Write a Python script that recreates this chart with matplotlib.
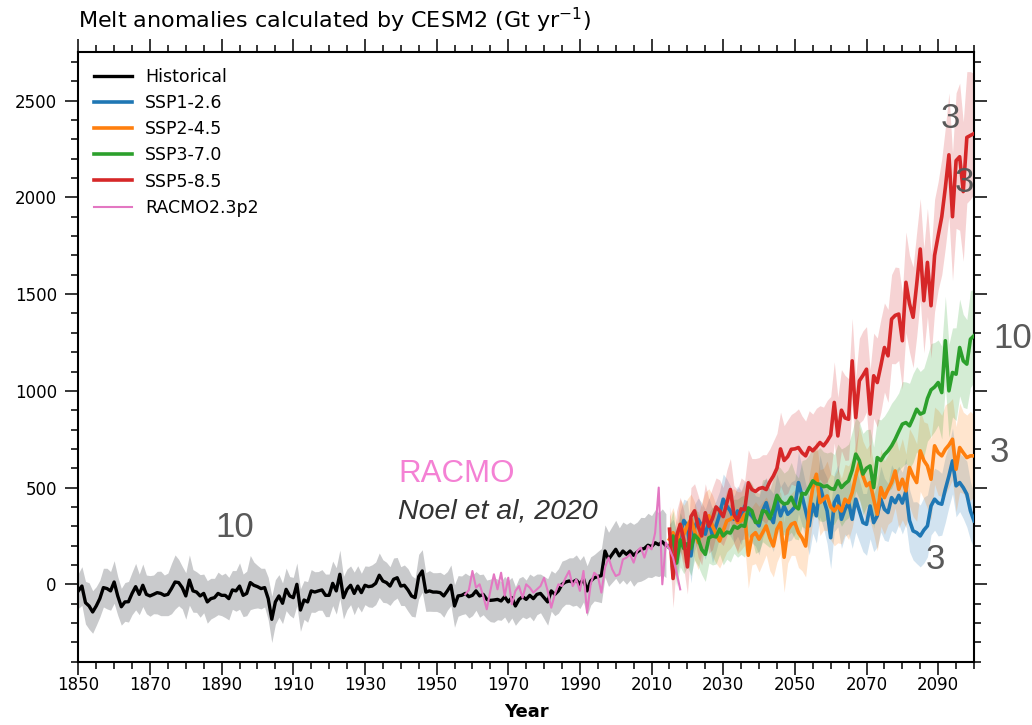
"""
plot.py
=======
Greenland melt anomalies from CESM2: the historical run, four SSP projections
and the RACMO2.3p2 regional model, with the ensemble range shaded around each
CESM2 mean.
"""

import matplotlib

matplotlib.use("Agg")  # headless backend
import matplotlib.pyplot as plt  # noqa: E402
import numpy as np  # noqa: E402
from matplotlib.ticker import MultipleLocator  # noqa: E402

# -----------------------------------------------------------------------------
# Data (Gt yr-1 anomalies)
# -----------------------------------------------------------------------------
HIST_START = 1850
hist_mean = [
    -34, -9, -95, -112, -143, -112, -74, -17, -22, -34,
    12, -60, -116, -91, -90, -47, -12, -52, -5, -52,
    -60, -52, -43, -47, -57, -52, -22, 12, 9, -17,
    -60, 22, -34, -40, -60, -47, -91, -74, -69, -47,
    -57, -57, -74, -29, -34, -9, -57, -47, 9, -5,
    -12, -22, -17, -74, -181, -91, -60, -98, -26, -60,
    -69, 0, -133, -81, -91, -34, -40, -34, -29, -57,
    -57, 5, -34, 52, -69, -26, -5, -47, -9, -43,
    -5, -12, -9, 5, 47, 17, 9, -9, 26, 34,
    -9, -5, -29, -60, -69, 40, 69, -40, -34, -40,
    -40, -43, -60, -34, -5, -112, -60, -57, -47, -64,
    -57, -34, -60, -52, -78, -83, -81, -78, -86, -64,
    -91, -69, -112, -78, -64, -78, -57, -74, -52, -47,
    -69, -91, -34, -52, -34, 0, 12, 17, 12, 22,
    0, 29, -34, 17, 34, 40, 45, 172, 129, 155,
    181, 147, 172, 155, 172, 150, 167, 181, 185, 202,
    195, 215, 205, 220, 200,
]
hist_spread = [
    90, 100, 110, 120, 110, 100, 95, 100, 105, 100,
    110, 100, 95, 100, 105, 110, 120, 105, 110, 100,
    105, 100, 110, 115, 105, 110, 130, 140, 120, 110,
    120, 130, 110, 105, 110, 100, 110, 105, 100, 110,
    105, 115, 110, 100, 105, 120, 110, 115, 140, 120,
    110, 105, 100, 110, 120, 115, 110, 105, 110, 100,
    105, 110, 110, 100, 105, 110, 105, 100, 105, 110,
    110, 115, 120, 125, 110, 105, 100, 110, 105, 100,
    100, 105, 110, 110, 115, 110, 105, 100, 110, 105,
    100, 105, 110, 105, 100, 115, 110, 100, 105, 100,
    100, 105, 110, 100, 105, 110, 105, 100, 105, 110,
    105, 100, 110, 105, 100, 110, 115, 105, 100, 105,
    110, 105, 100, 110, 105, 100, 110, 115, 105, 100,
    110, 120, 105, 110, 115, 120, 115, 120, 125, 130,
    125, 120, 130, 125, 120, 130, 140, 135, 140, 145,
    150, 145, 150, 155, 150, 160, 155, 165, 160, 165,
    160, 170, 165, 170, 165,
]

RACMO_START = 1958
racmo = [
    -52, -30, 69, -17, 0, -60, -129, -34, 52, -26,
    60, -60, 34, -103, -34, -9, -69, 0, -17, -43,
    -26, -9, 34, -34, -121, -52, 0, -9, 34, 69,
    -9, 26, -34, 69, -147, 0, 60, 43, -43, 86,
    138, 78, 43, 52, 129, 138, 155, 112, 172, 190,
    138, 198, 181, 267, 500, 0, 216, 181, 138, 60,
    -26,
]

SSP_START = 2015
ssp126 = [
    200, 216, 150, 260, 330, 302, 147, 293, 336, 302,
    259, 328, 250, 302, 362, 440, 405, 379, 336, 379,
    345, 405, 371, 354, 328, 302, 379, 422, 354, 319,
    431, 354, 405, 362, 379, 400, 526, 457, 380, 302,
    414, 354, 509, 440, 380, 241, 422, 457, 336, 388,
    422, 336, 440, 380, 319, 310, 405, 319, 354, 440,
    388, 371, 448, 422, 460, 420, 483, 330, 276, 267,
    250, 280, 302, 405, 440, 420, 414, 491, 560, 638,
    509, 526, 500, 466, 380, 328,
]
ssp126_spread = [
    110, 120, 130, 120, 110, 130, 140, 120, 110, 120,
    130, 120, 140, 130, 120, 130, 140, 130, 120, 130,
    140, 130, 120, 140, 130, 150, 140, 130, 140, 150,
    140, 150, 130, 140, 150, 140, 160, 150, 140, 150,
    150, 140, 160, 150, 170, 160, 150, 160, 150, 140,
    160, 150, 170, 160, 150, 160, 170, 150, 160, 170,
    160, 150, 170, 160, 150, 160, 170, 160, 150, 160,
    160, 170, 160, 150, 160, 170, 160, 170, 160, 170,
    160, 150, 160, 170, 150, 140,
]
ssp245 = [
    233, 267, 181, 310, 259, 302, 336, 276, 216, 293,
    328, 354, 302, 259, 224, 276, 328, 336, 354, 319,
    328, 362, 150, 250, 267, 233, 267, 302, 241, 198,
    285, 319, 140, 280, 310, 319, 267, 240, 198, 380,
    500, 569, 422, 440, 457, 400, 379, 405, 379, 440,
    422, 474, 560, 629, 560, 509, 526, 440, 362, 500,
    448, 490, 526, 586, 491, 543, 483, 604, 560, 526,
    690, 640, 612, 543, 716, 680, 664, 698, 720, 750,
    595, 707, 680, 655, 664, 664,
]
ssp245_spread = [
    120, 130, 140, 130, 150, 140, 130, 150, 140, 130,
    150, 140, 160, 150, 140, 150, 160, 150, 140, 160,
    150, 160, 170, 150, 160, 170, 160, 150, 170, 160,
    170, 160, 180, 170, 160, 170, 180, 170, 160, 180,
    170, 180, 170, 160, 180, 170, 180, 190, 170, 180,
    190, 180, 170, 190, 180, 190, 200, 180, 190, 200,
    190, 180, 200, 190, 200, 210, 190, 200, 210, 200,
    210, 200, 220, 210, 200, 220, 210, 230, 220, 210,
    220, 230, 210, 220, 230, 210,
]
ssp370 = [
    190, 250, 110, 230, 185, 210, 185, 255, 235, 180,
    155, 240, 250, 245, 285, 250, 270, 265, 300, 290,
    305, 300, 395, 380, 320, 320, 380, 375, 340, 390,
    460, 430, 415, 420, 450, 405, 390, 470, 466, 500,
    535, 520, 517, 505, 509, 495, 491, 535, 500, 520,
    535, 590, 673, 640, 570, 600, 612, 500, 655, 640,
    670, 690, 716, 750, 790, 828, 836, 819, 860, 905,
    880, 888, 960, 1005, 1020, 1043, 991, 1259, 1000, 1095,
    1086, 1224, 1155, 1138, 1267, 1285,
]
ssp370_spread = [
    120, 130, 120, 140, 130, 120, 140, 130, 140, 130,
    140, 130, 150, 140, 130, 150, 140, 150, 140, 150,
    150, 160, 150, 140, 160, 150, 160, 170, 150, 160,
    160, 170, 160, 170, 180, 170, 160, 170, 180, 170,
    180, 170, 190, 180, 170, 190, 180, 190, 200, 190,
    190, 200, 190, 200, 210, 200, 190, 210, 200, 210,
    200, 210, 220, 210, 200, 220, 210, 220, 230, 220,
    220, 230, 220, 240, 230, 220, 240, 230, 240, 230,
    240, 250, 240, 230, 250, 240,
]
ssp585 = [
    285, 30, 250, 310, 230, 90, 350, 380, 300, 250,
    370, 300, 340, 400, 380, 350, 420, 490, 360, 330,
    390, 385, 525, 490, 480, 495, 500, 490, 530, 560,
    600, 700, 640, 660, 698, 700, 707, 680, 664, 707,
    690, 710, 733, 716, 740, 771, 940, 767, 900, 860,
    853, 1155, 862, 1052, 1080, 1112, 880, 1078, 1043, 1130,
    1224, 1181, 1371, 1390, 1397, 1259, 1561, 1450, 1380, 1550,
    1733, 1466, 1664, 1440, 1700, 1802, 1900, 2050, 2220, 1900,
    2190, 2210, 2030, 2310, 2320, 2330,
]
ssp585_spread = [
    120, 150, 130, 140, 150, 140, 150, 140, 160, 150,
    150, 140, 160, 150, 160, 150, 170, 160, 150, 160,
    160, 150, 170, 160, 170, 160, 170, 180, 170, 180,
    180, 190, 180, 190, 180, 190, 200, 190, 180, 190,
    190, 200, 190, 200, 210, 200, 210, 200, 210, 220,
    210, 220, 210, 220, 230, 220, 230, 220, 230, 240,
    230, 240, 230, 250, 240, 250, 260, 250, 260, 270,
    260, 270, 280, 270, 290, 280, 300, 310, 320, 330,
    350, 380, 360, 340, 330, 310,
]

SCENARIOS = [
    ("SSP1-2.6", ssp126, ssp126_spread, "#1f77b4"),
    ("SSP2-4.5", ssp245, ssp245_spread, "#ff7f0e"),
    ("SSP3-7.0", ssp370, ssp370_spread, "#2ca02c"),
    ("SSP5-8.5", ssp585, ssp585_spread, "#d62728"),
]

NOTE_GREY = "#595959"
NOTE_FONT = ["Liberation Sans", "DejaVu Sans"]


def _years(start: int, values: list) -> np.ndarray:
    """Annual time axis for a series starting in ``start``."""
    return np.arange(start, start + len(values))


def _style_axes(ax) -> None:
    """Limits, ticks on all four sides and spine widths."""
    ax.set_xlim(1850, 2100)
    ax.set_ylim(-400, 2750)
    ax.set_xticks(np.arange(1850, 2100, 20))
    ax.xaxis.set_minor_locator(MultipleLocator(5))
    ax.set_yticks(np.arange(0, 2501, 500))
    ax.yaxis.set_minor_locator(MultipleLocator(100))
    ax.tick_params(which="both", direction="out", top=True, right=True,
                   labelsize=12, width=1.1)
    ax.tick_params(which="major", length=9.5)
    ax.tick_params(which="minor", length=5)
    ax.tick_params(axis="x", which="major", pad=1)
    ax.tick_params(axis="y", which="major", pad=6)
    for spine in ax.spines.values():
        spine.set_linewidth(1.5)
    ax.set_xlabel("Year", fontsize=13, fontweight="bold", labelpad=6)


def main() -> None:
    fig = plt.figure(figsize=(10.32, 7.25), dpi=100)
    ax = fig.add_axes([0.0759, 0.0873, 0.8679, 0.8406])

    # historical ensemble range and mean
    hy = _years(HIST_START, hist_mean)
    hm = np.asarray(hist_mean, dtype=float)
    hs = np.asarray(hist_spread, dtype=float)
    ax.fill_between(hy, hm - hs, hm + hs, color="#c9cacc", lw=0, zorder=1)
    ax.plot(hy, hm, color="black", lw=2.4, label="Historical", zorder=3)

    # scenario ranges first, then the means on top
    for name, mean, spread, color in SCENARIOS:
        sy = _years(SSP_START, mean)
        sm = np.asarray(mean, dtype=float)
        ss = np.asarray(spread, dtype=float)
        ax.fill_between(sy, sm - ss, sm + ss, color=color, alpha=0.2, lw=0,
                        zorder=2)
    for name, mean, spread, color in SCENARIOS:
        ax.plot(_years(SSP_START, mean), mean, color=color, lw=2.6,
                label=name, zorder=4)

    ax.plot(_years(RACMO_START, racmo), racmo, color="#e377c2", lw=1.5,
            label="RACMO2.3p2", zorder=5)

    _style_axes(ax)
    ax.legend(loc="upper left", frameon=False, fontsize=12.5, handlelength=2.2,
              handletextpad=0.75, labelspacing=0.47, borderaxespad=0.5)

    fig.text(0.0759, 1 - 28 / 725, "Melt anomalies calculated by CESM2 (Gt yr$^{-1}$)",
             fontsize=16, ha="left", va="baseline")

    # ensemble sizes and the RACMO reference
    notes = dict(color=NOTE_GREY, family=NOTE_FONT, fontsize=25,
                 ha="left", va="baseline", zorder=6, clip_on=False)
    ax.text(1888.2, 247, "10", **notes)
    ax.text(2090.6, 2359, "3", **notes)
    ax.text(2094.6, 2026, "3", **notes)
    ax.text(2105.3, 1221, "10", **notes)
    ax.text(2104.3, 631, "3", **notes)
    ax.text(2086.5, 78, "3", **notes)
    ax.text(1939.2, 529, "RACMO", color="#f481d4", family=NOTE_FONT,
            fontsize=22.5, ha="left", va="baseline")
    ax.text(1939.2, 341, "Noel et al, 2020", color="#333333", family=NOTE_FONT,
            fontsize=20.5, style="italic", ha="left", va="baseline")

    fig.savefig("out.png", dpi=100)
    plt.close(fig)


if __name__ == "__main__":
    main()
